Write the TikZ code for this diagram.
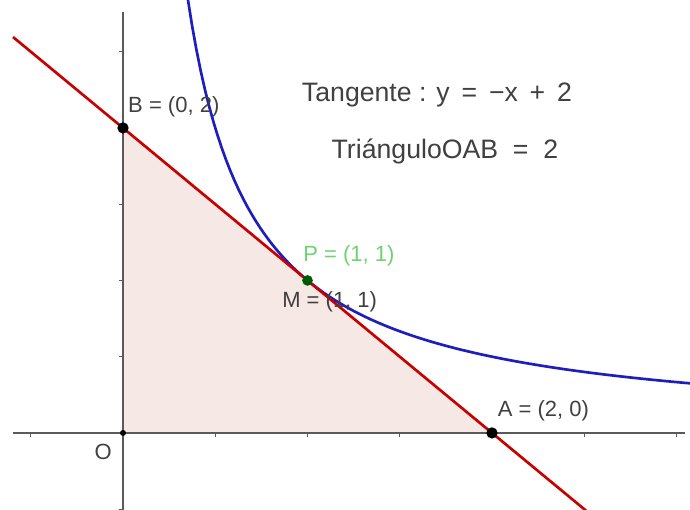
\documentclass[tikz,border=0pt]{standalone}
\usepackage{fontspec}
\setmainfont{Liberation Sans}
\usetikzlibrary{positioning}
\definecolor{redish}{RGB}{200,0,0}
\definecolor{blueish}{RGB}{30,30,190}
\definecolor{pinkish}{RGB}{246,232,228}
\definecolor{greenish}{RGB}{0,90,0}
\definecolor{lightgreen}{RGB}{110,210,110}
\definecolor{axisgray}{RGB}{90,90,90}

\begin{document}
\begin{tikzpicture}[x=138.375pt,y=114.375pt,
    pt/.style={circle,fill=black,inner sep=0pt,minimum size=8.5pt},
    lbl/.style={font=\fontsize{16.5}{18}\selectfont,text=black!75,inner sep=0pt},
    big/.style={font=\fontsize{20}{22}\selectfont,text=black!75,inner sep=0pt}]
        \useasboundingbox (-0.6667,-0.505) rectangle (3.0732,2.839);
        % triangle OAB
        \fill[pinkish] (0,0) -- (2,0) -- (0,2) -- cycle;
        % axes
        \draw[axisgray,line width=0.9pt] (-0.596,0) -- (3.046,0);
        \draw[axisgray,line width=0.9pt] (0,-0.51) -- (0,2.76);
        \foreach \t in {-0.5,0.5,1,1.5,2,2.5,3}
            \draw[axisgray,line width=0.7pt] (\t,0) -- ++(0,-3pt);
        \foreach \t in {-0.5,0.5,1,1.5,2,2.5}
            \draw[axisgray,line width=0.7pt] (0,\t) -- ++(-3pt,0);
        % curve y=1/x
        \draw[blueish,line width=2pt] plot[domain=0.352:3.08,samples=120] (\x,{1/\x});
        % tangent
        \coordinate (L1) at (-0.596,2.596);
        \coordinate (L2) at (2.51,-0.51);
        \draw[redish,line width=2pt] (L1) -- (L2);
        % points
        \node[pt,minimum size=4.5pt] (O) at (0,0) {};
        \node[pt] (A) at (2,0) {};
        \node[pt] (B) at (0,2) {};
        \node[pt,fill=greenish,minimum size=8pt] (P) at (1,1) {};
        \node[lbl,anchor=west] (Blbl) at (0.027,2.138) {B = (0, 2)};
        \node[lbl,anchor=west] (Albl) at (2.03,0.144) {A = (2, 0)};
        \node[lbl,anchor=west,text=lightgreen] (Plbl) at (0.976,1.16) {P = (1, 1)};
        \node[lbl,anchor=west] (Mlbl) at (0.862,0.859) {M = (1, 1)};
        \node[lbl] (Olbl) at (-0.108,-0.125) {O};
        % texts
        \node[big] (tang) at (1.702,2.216) {Tangente : y \,=\, −x \,+\, 2};
        \node[big] (area) at (1.745,1.843) {TriánguloOAB \;=\; 2};
\end{tikzpicture}
\end{document}
